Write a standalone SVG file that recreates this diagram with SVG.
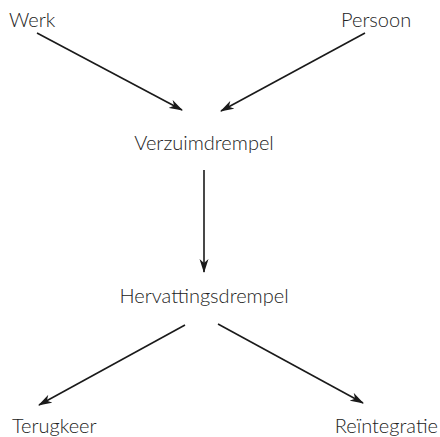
<svg xmlns="http://www.w3.org/2000/svg" width="440" height="437" viewBox="0 0 440 437">
  <style>
    .lbl { font-family: Lato, "Open Sans", "DejaVu Sans", sans-serif; font-weight: 300; font-size: 20px; fill: #222; }
    .edge { stroke: #1a1a1a; stroke-width: 1.6; fill: none; marker-end: url(#head); }
  </style>
  <defs>
    <marker id="head" viewBox="0 0 14 10" refX="13" refY="5" markerWidth="14" markerHeight="10" markerUnits="userSpaceOnUse" orient="auto">
      <path d="M0,0.5 L14,5 L0,9.5 L4,5 z" fill="#1a1a1a"/>
    </marker>
  </defs>
  <rect width="440" height="437" fill="#ffffff"/>

  <g id="connectors">
    <line class="edge" x1="37" y1="33" x2="182" y2="110"/>
    <line class="edge" x1="365" y1="33" x2="221" y2="111"/>
    <line class="edge" x1="204" y1="170" x2="204" y2="272"/>
    <line class="edge" x1="185" y1="325" x2="39" y2="405"/>
    <line class="edge" x1="218" y1="324" x2="363" y2="403"/>
  </g>

  <g id="werk"><text class="lbl" x="9" y="27">Werk</text></g>
  <g id="persoon"><text class="lbl" x="341" y="27">Persoon</text></g>
  <g id="verzuimdrempel"><text class="lbl" x="204" y="150" text-anchor="middle">Verzuimdrempel</text></g>
  <g id="hervattingsdrempel"><text class="lbl" x="204" y="303" text-anchor="middle">Hervattingsdrempel</text></g>
  <g id="terugkeer"><text class="lbl" x="12" y="433">Terugkeer</text></g>
  <g id="reintegratie"><text class="lbl" x="438" y="433" text-anchor="end">Reïntegratie</text></g>
</svg>
